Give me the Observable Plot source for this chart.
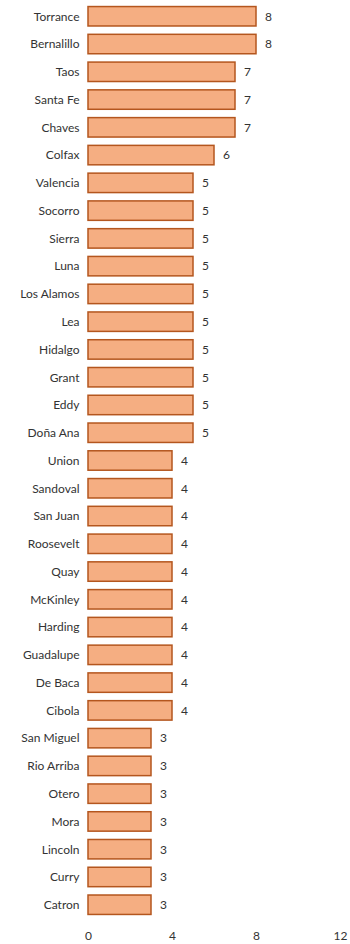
<!DOCTYPE html>
<html><head><meta charset="utf-8">
<script src="https://cdn.jsdelivr.net/npm/d3@7"></script>
<script src="https://cdn.jsdelivr.net/npm/@observablehq/plot@0.6"></script>
<style>body{margin:0;background:#fff}</style>
</head><body><div id="chart"></div>
<script>
const counties = ["Torrance","Bernalillo","Taos","Santa Fe","Chaves","Colfax","Valencia","Socorro","Sierra","Luna","Los Alamos","Lea","Hidalgo","Grant","Eddy","Doña Ana","Union","Sandoval","San Juan","Roosevelt","Quay","McKinley","Harding","Guadalupe","De Baca","Cibola","San Miguel","Rio Arriba","Otero","Mora","Lincoln","Curry","Catron"];
const values = [8,8,7,7,7,6,5,5,5,5,5,5,5,5,5,5,4,4,4,4,4,4,4,4,4,4,3,3,3,3,3,3,3];
const xTicks = [0,4,8,12];
const data = counties.map((c,i)=>({county:c, value:values[i]}));
const chart = Plot.plot({
  width:350, height:944,
  marginLeft:88, marginRight:10, marginTop:1, marginBottom:24,
  style:{fontFamily:"Lato, 'Open Sans', sans-serif", fontSize:"12px", color:"#333", background:"#fff"},
  x:{domain:[0,12], ticks:xTicks, tickSize:0, tickPadding:11, label:null},
  y:{domain:counties, paddingInner:0.3, paddingOuter:0.2, round:false, tickSize:0, tickPadding:9, label:null},
  marks:[
    Plot.barX(data,{y:"county", x:"value", fill:"#F5AE82", stroke:"#B4561E", strokeWidth:1.5}),
    Plot.text(data,{y:"county", x:"value", text:d=>String(d.value), dx:12, fill:"#333", fontSize:12})
  ]
});
document.getElementById("chart").appendChild(chart);
</script></body></html>
